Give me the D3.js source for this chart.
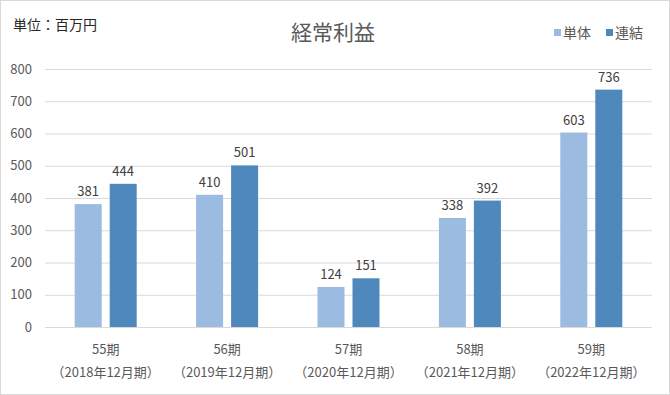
<!DOCTYPE HTML>
<html lang="ja">
<head>
<meta charset="utf-8">
<title>経常利益</title>
<style>
html, body { margin: 0; padding: 0; background: #fff; }
svg { display: block; font-family: "Noto Sans CJK JP", "Noto Sans", sans-serif; }
.grid line { stroke: #d9d9d9; stroke-width: 1; }
.grid path { display: none; }
</style>
</head>
<body>
<div id="chart"></div>
<script src="https://cdnjs.cloudflare.com/ajax/libs/d3/7.8.5/d3.min.js"></script>
<script>
(function() {
  'use strict';

// data
const periods = ['55期', '56期', '57期', '58期', '59期'];
const fiscal = ['（2018年12月期）', '（2019年12月期）', '（2020年12月期）', '（2021年12月期）', '（2022年12月期）'];
const seriesNames = ['単体', '連結'];
const tanTai = [381, 410, 124, 338, 603];
const renKetsu = [444, 501, 151, 392, 736];
const yTicks = [0, 100, 200, 300, 400, 500, 600, 700, 800];

const colors = ['#9bbbe0', '#4f88bd'];
const width = 670, height = 395;
const plot = { left: 45, right: 652, top: 69, bottom: 327 };

const svg = d3.select('#chart').append('svg')
  .attr('width', width)
  .attr('height', height);

// frame
svg.append('rect')
  .attr('x', 0.5).attr('y', 0.5)
  .attr('width', width - 1).attr('height', height - 1)
  .attr('fill', '#fff')
  .attr('stroke', '#d9d9d9');

const x = d3.scaleBand()
  .domain(periods)
  .range([plot.left, plot.right]);

const y = d3.scaleLinear()
  .domain([0, 800])
  .range([plot.bottom, plot.top]);

// grid lines
svg.append('g')
  .attr('class', 'grid')
  .attr('transform', 'translate(' + plot.left + ',0)')
  .call(d3.axisLeft(y).tickValues(yTicks).tickSize(-(plot.right - plot.left)).tickFormat(''));

// y labels
svg.selectAll('.ylab')
  .data(yTicks)
  .enter().append('text')
  .attr('class', 'ylab')
  .attr('x', 32)
  .attr('y', d => y(d) + 4.5)
  .attr('text-anchor', 'end')
  .attr('font-size', 13)
  .attr('fill', '#595959')
  .text(d => d);

// bars
const barW = 27, gap = 8;
const data = periods.map((p, i) => ({ p: p, vals: [tanTai[i], renKetsu[i]] }));

const groups = svg.selectAll('.grp')
  .data(data)
  .enter().append('g')
  .attr('class', 'grp')
  .attr('transform', d => 'translate(' + (x(d.p) + x.bandwidth() / 2) + ',0)');

groups.selectAll('rect')
  .data(d => d.vals)
  .enter().append('rect')
  .attr('x', (d, j) => j === 0 ? -(barW + gap / 2) : gap / 2)
  .attr('y', d => y(d))
  .attr('width', barW)
  .attr('height', d => y(0) - y(d))
  .attr('fill', (d, j) => colors[j]);

groups.selectAll('.val')
  .data(d => d.vals)
  .enter().append('text')
  .attr('class', 'val')
  .attr('x', (d, j) => j === 0 ? -(barW / 2 + gap / 2) : barW / 2 + gap / 2)
  .attr('y', d => y(d) - 8)
  .attr('text-anchor', 'middle')
  .attr('font-size', 13)
  .attr('fill', '#404040')
  .text(d => d);

// x axis line
svg.append('line')
  .attr('x1', plot.left).attr('x2', plot.right)
  .attr('y1', y(0) + 0.5).attr('y2', y(0) + 0.5)
  .attr('stroke', '#d9d9d9');

// category labels
svg.selectAll('.cat1')
  .data(periods)
  .enter().append('text')
  .attr('x', d => x(d) + x.bandwidth() / 2)
  .attr('y', 354)
  .attr('text-anchor', 'middle')
  .attr('font-size', 13)
  .attr('fill', '#595959')
  .text(d => d);

svg.selectAll('.cat2')
  .data(fiscal)
  .enter().append('text')
  .attr('x', (d, i) => x(periods[i]) + x.bandwidth() / 2)
  .attr('y', 377)
  .attr('text-anchor', 'middle')
  .attr('font-size', 13)
  .attr('fill', '#595959')
  .text(d => d);

// title
svg.append('text')
  .attr('x', 333).attr('y', 40)
  .attr('text-anchor', 'middle')
  .attr('font-size', 21)
  .attr('fill', '#595959')
  .text('経常利益');

// unit
svg.append('text')
  .attr('x', 13).attr('y', 30)
  .attr('font-size', 14)
  .attr('fill', '#262626')
  .text('単位：百万円');

// legend
const legendX = [554, 606];
const leg = svg.selectAll('.leg')
  .data(seriesNames)
  .enter().append('g')
  .attr('transform', (d, i) => 'translate(' + legendX[i] + ',0)');

leg.append('rect')
  .attr('x', 0).attr('y', 29)
  .attr('width', 7).attr('height', 7)
  .attr('fill', (d, i) => colors[i]);

leg.append('text')
  .attr('x', 9).attr('y', 38)
  .attr('font-size', 14)
  .attr('fill', '#595959')
  .text(d => d);
}());
</script>
</body>
</html>
